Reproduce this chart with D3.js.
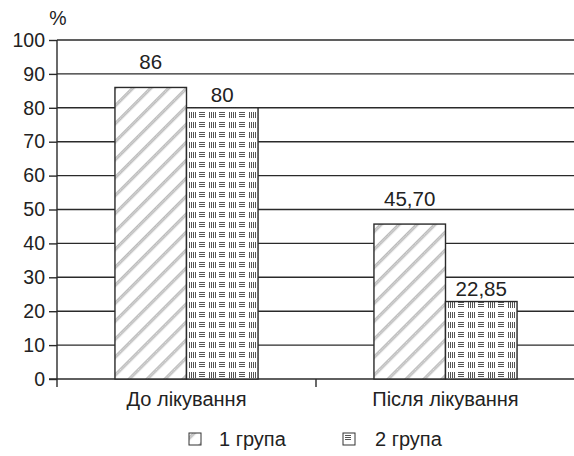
<!DOCTYPE html>
<html><head><meta charset="utf-8">
<script src="https://cdn.jsdelivr.net/npm/d3@7/dist/d3.min.js"></script>
<style>body{margin:0;background:#fff}text{font-family:"Liberation Sans",Arial,sans-serif;fill:#222}</style>
</head><body><svg id="c" width="574" height="456"></svg>
<script>
const categories = ["До лікування", "Після лікування"];
const seriesNames = ["1 група", "2 група"];
const group1 = [86, 45.70];
const group2 = [80, 22.85];
const labels1 = ["86", "45,70"];
const labels2 = ["80", "22,85"];
const yTicks = [0,10,20,30,40,50,60,70,80,90,100];

const FS = 19.5, FS2 = 20, FS3 = 20.5;
const svg = d3.select("#c");
const m = {l:57, r:0, t:40, b:77};
const W = 574, H = 456;
const x0 = d3.scaleBand().domain(categories).range([m.l, W - m.r + 1]).paddingInner(0).paddingOuter(0);
const x1 = d3.scaleBand().domain(seriesNames).range([0, x0.bandwidth()]).paddingInner(0).paddingOuter(0.81);
const y = d3.scaleLinear().domain([0,100]).range([H - m.b, m.t]);

const defs = svg.append("defs");
function stripePattern(id, transform, px){
  const p = defs.append("pattern").attr("id",id).attr("patternUnits","userSpaceOnUse")
    .attr("x",px).attr("width",12.7).attr("height",12.7).attr("patternTransform",transform);
  p.append("rect").attr("width",12.7).attr("height",12.7).attr("fill","#fff");
  p.append("rect").attr("x",0).attr("y",0).attr("width",3.2).attr("height",12.7).attr("fill","#bdbdbd");
  p.append("line").attr("x1",1.6).attr("x2",1.6).attr("y1",0).attr("y2",12.7)
    .attr("stroke","#ececec").attr("stroke-width",0.9).attr("stroke-dasharray","1,1.1");
}
stripePattern("p1","rotate(45)",0);
stripePattern("p1L","translate(195,439) rotate(45)",-1.6);

const p2 = defs.append("pattern").attr("id","p2").attr("patternUnits","userSpaceOnUse")
  .attr("width",20).attr("height",10).attr("x",0).attr("y",0);
p2.append("rect").attr("width",20).attr("height",10).attr("fill","#fff");
[2.5,4.5,6.5].forEach(d=>p2.append("line").attr("x1",2).attr("x2",8).attr("y1",d).attr("y2",d).attr("stroke","#555").attr("stroke-width",1).attr("shape-rendering","crispEdges"));
[12.5,14.5,16.5,18.5].forEach(d=>p2.append("line").attr("x1",d).attr("x2",d).attr("y1",1.5).attr("y2",8).attr("stroke","#555").attr("stroke-width",1).attr("shape-rendering","crispEdges"));

// gridlines
svg.append("g").selectAll("line").data(yTicks.filter(d=>d>0)).join("line")
  .attr("x1",m.l).attr("x2",W).attr("y1",d=>y(d)).attr("y2",d=>y(d))
  .attr("stroke","#2a2a2a").attr("stroke-width",1.4);

// y axis
const ya = svg.append("g").attr("transform",`translate(${m.l},0)`)
  .call(d3.axisLeft(y).tickValues(yTicks).tickSize(8).tickPadding(4));
ya.select(".domain").attr("stroke","#2a2a2a").attr("stroke-width",1.4).attr("d",`M0,${y(0)}V${y(100)}`);
ya.selectAll(".tick line").attr("stroke","#2a2a2a").attr("stroke-width",1.4);
ya.selectAll(".tick text").style("font-size",FS+"px").style("font-family","Liberation Sans, Arial, sans-serif").attr("fill","#222");

// x axis
const xa = svg.append("g").attr("transform",`translate(0,${y(0)})`)
  .call(d3.axisBottom(x0).tickSize(0).tickPadding(13));
xa.select(".domain").attr("stroke","#2a2a2a").attr("stroke-width",1.4).attr("d",`M${m.l-8},0H${W}`);
xa.selectAll(".tick text").style("font-size",FS2+"px").style("font-family","Liberation Sans, Arial, sans-serif").attr("fill","#222");
svg.append("g").selectAll("line").data(categories).join("line")
  .attr("x1",d=>x0(d)).attr("x2",d=>x0(d)).attr("y1",y(0)).attr("y2",y(0)+8)
  .attr("stroke","#2a2a2a").attr("stroke-width",1.4);

// bars
const rows = categories.map((c,i)=>({c, v:[
  {s:seriesNames[0],v:group1[i],l:labels1[i],p:"p1",off:18.5},
  {s:seriesNames[1],v:group2[i],l:labels2[i],p:"p2",off:6}]}));
const g = svg.append("g").selectAll("g").data(rows).join("g").attr("transform",d=>`translate(${x0(d.c)},0)`);
g.selectAll("rect").data(d=>d.v).join("rect")
  .attr("x",d=>x1(d.s)).attr("width",x1.bandwidth())
  .attr("y",d=>y(d.v)).attr("height",d=>y(0)-y(d.v))
  .attr("fill",d=>`url(#${d.p})`).attr("stroke","#2a2a2a").attr("stroke-width",1.4);
g.selectAll("text.lbl").data(d=>d.v).join("text").attr("class","lbl")
  .attr("x",d=>x1(d.s)+x1.bandwidth()/2).attr("y",d=>y(d.v)-d.off)
  .attr("text-anchor","middle").style("font-size",FS3+"px").text(d=>d.l);

// % label
svg.append("text").attr("x",58).attr("y",25).attr("text-anchor","middle").style("font-size",FS+"px").text("%");

// legend
const leg = [{n:seriesNames[0],p:"p1L",x:189,tx:219},{n:seriesNames[1],p:"p2",x:343,tx:375}];
const lg = svg.append("g").selectAll("g").data(leg).join("g").attr("transform",d=>`translate(${d.x},433)`);
lg.append("rect").attr("width",12).attr("height",12).attr("fill",d=>`url(#${d.p})`).attr("stroke","#333").attr("stroke-width",1);
lg.append("text").attr("x",d=>d.tx-d.x).attr("y",13).style("font-size",FS2+"px").text(d=>d.n);
</script></body></html>
